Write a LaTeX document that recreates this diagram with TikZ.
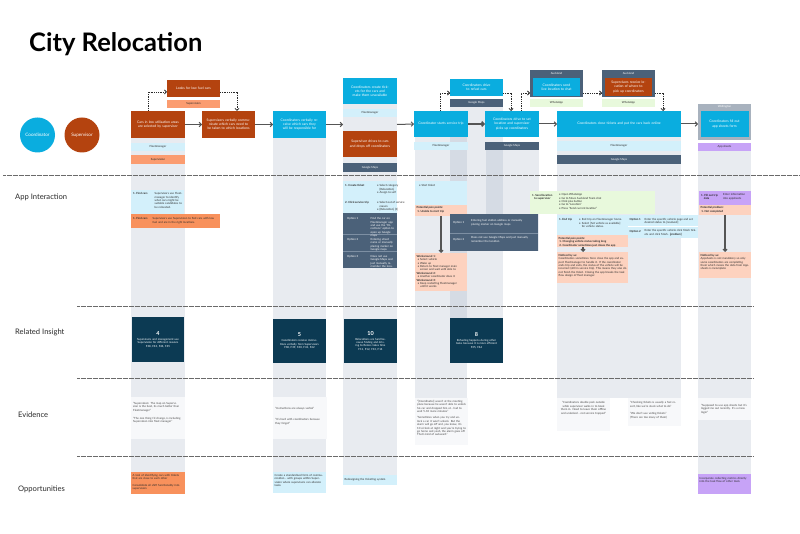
\documentclass[tikz,border=0pt]{standalone}
\usepackage{fontspec}
\setmainfont{Lato}
\usetikzlibrary{arrows.meta}

% palette
\definecolor{cyanc}{HTML}{0AADDF}
\definecolor{brownc}{HTML}{B4430F}
\definecolor{salmonc}{HTML}{FB9C70}
\definecolor{orangec}{HTML}{F8915C}
\definecolor{peachc}{HTML}{FDD2BF}
\definecolor{lblue}{HTML}{D3F0FB}
\definecolor{slatec}{HTML}{4B6179}
\definecolor{optline}{HTML}{7D8FA3}
\definecolor{lgreen}{HTML}{E8F9DC}
\definecolor{purplec}{HTML}{C7A3F7}
\definecolor{bandbase}{HTML}{8C9BB4}
\definecolor{navyc}{HTML}{0C3A53}
\definecolor{framec}{HTML}{A8B2BE}
\definecolor{evc}{HTML}{F7F8FA}
\definecolor{inkc}{HTML}{2A2A2A}
\definecolor{quotec}{HTML}{444444}
\definecolor{linec}{HTML}{6A6A6A}
\definecolor{arrowc}{HTML}{555555}

\newcommand\fsCard{\fontsize{3.4}{4.1}\selectfont}
\newcommand\fsNote{\fontsize{2.8}{3.4}\selectfont}
\newcommand\fsRow{\fontsize{7.6}{9}\selectfont}
\newcommand\fsNum{\fontsize{5.5}{6.5}\selectfont}

\tikzset{
  base/.style={anchor=north west, inner sep=0pt, outer sep=0pt, align=center, font=\fsCard},
  wh/.style 2 args={minimum width=#1pt, minimum height=#2pt},
  tw/.style={text width=#1pt},
  card/.style={base, fill=#1, text=white},
  tag/.style={base, fill=#1, text=inkc, font=\fsNote},
  flow/.style={draw=arrowc, line width=1pt, -{Straight Barb[length=2.2pt,width=4.6pt]}},
  dflow/.style={draw=inkc, line width=0.8pt, dash pattern=on 1pt off 0.8pt, -{Straight Barb[length=2pt,width=4pt]}},
  vflow/.style={draw=arrowc, line width=1.2pt, -{Straight Barb[length=2pt,width=4pt]}},
  sep/.style={draw=linec, line width=0.7pt, dash pattern=on 0.7pt off 0.5pt},
  band/.style={fill=bandbase, fill opacity=0.2},
  txt/.style={anchor=north west, inner sep=0pt, align=left, font=\fsNote, text=inkc},
  wtxt/.style={txt, text=white},
  qtxt/.style={txt, text=quotec},
  insight/.style={base, fill=navyc, text=white, font=\fsNote},
  rowlab/.style={anchor=west, inner sep=0pt, font=\fsRow, text=inkc},
  hdr/.style={anchor=north, inner sep=0pt, font=\fsNote, text=white},
}

\begin{document}
\begin{tikzpicture}[x=1pt,y=-1pt]
\useasboundingbox (0,0) rectangle (800,534);
\fill[white] (0,0) rectangle (800,534);

% ---------- title and legend ----------
\node[anchor=west, inner sep=0pt, font=\fontsize{25.5}{28}\selectfont\bfseries] (title) at (29,44) {City Relocation};
\node[circle, fill=cyanc, minimum size=35pt, inner sep=0pt, text=white, font=\fontsize{4.6}{5}\selectfont] (legC) at (37.5,135) {Coordinator};
\node[circle, fill=brownc, minimum size=35pt, inner sep=0pt, text=white, font=\fontsize{4.6}{5}\selectfont] (legS) at (82,135) {Supervisor};

% ---------- column bands ----------
\fill[band] (131,138) rectangle (185,472);
\fill[band] (273,138) rectangle (326,472);
\fill[band] (343,104) rectangle (397,475);
\fill[band] (415,137) rectangle (467,398);
\fill[band] (450,107) rectangle (503,318);
\fill[band] (486,150) rectangle (539,251);
\fill[band] (557,137) rectangle (681,398);
\fill[band] (698,150) rectangle (751,474);

% ---------- row separators and labels ----------
\draw[sep] (3,175) -- (800,175);
\draw[sep] (77,306) -- (753,306);
\draw[sep] (77,378) -- (753,378);
\draw[sep] (77,456) -- (753,456);
\node[rowlab] (rApp) at (15,197) {App Interaction};
\node[rowlab] (rIns) at (15,332) {Related Insight};
\node[rowlab] (rEv) at (18,415) {Evidence};
\node[rowlab] (rOpp) at (18,489) {Opportunities};

% ---------- journey steps ----------
\node[card=brownc, wh={54}{27}, tw=47] (cA) at (131,111) {Cars in low utilisation areas are selected by supervisor};
\node[card=brownc, wh={53}{17}, tw=47] (cAup) at (167,80) {Looks for low fuel cars};
\node[tag=salmonc, wh={53}{8}] (tAup) at (167,100) {Supervision};
\node[tag=lblue, wh={54}{8}] (tA1) at (131,143) {Fleetmanager};
\node[tag=salmonc, wh={54}{9}] (tA2) at (131,155) {Supervision};

\node[card=brownc, wh={53}{27}, tw=47] (cB) at (202,111) {Supervisors verbally communicate which cars need to be taken to which locations};

\node[card=cyanc, wh={53}{27}, tw=47] (cC) at (273,111) {Coordinators verbally receive which cars they will be responsible for};

\node[card=cyanc, wh={54}{26}, tw=47] (cD1) at (343,78) {Coordinators create tickets for the cars and make them unavailable};
\node[tag=lblue, wh={54}{8}] (tD1) at (343,109) {Fleetmanager};
\node[card=brownc, wh={54}{26}, tw=47] (cD2) at (343,131) {Supervisor drives to cars and drops off coordinators};
\node[tag=slatec, wh={54}{9}, text=white] (tD2) at (343,163) {Google Maps};

\node[card=cyanc, wh={54}{26}, tw=47] (cE) at (414,111) {Coordinator starts service trip};
\node[tag=lblue, wh={54}{8}] (tE) at (414,142) {Fleetmanager};

\node[card=cyanc, wh={53}{17}, tw=47] (cEp) at (450,79) {Coordinators drive to refuel cars};
\node[tag=slatec, wh={53}{8}, text=white] (tEp) at (450,99) {Google Maps};

\node[card=cyanc, wh={54}{26}, tw=47] (cF) at (485,111) {Coordinators drive to set location and supervisor picks up coordinators};
\node[tag=slatec, wh={54}{8}, text=white] (tF) at (485,142) {Google Maps};

\node[base, fill=slatec, wh={53}{27}] (fG) at (530,70) {};
\node[hdr] (hG) at (556.5,71.8) {Auckland};
\node[card=cyanc, wh={47}{18}, tw=44] (cG) at (533,78) {Coordinators send live location to chat};
\node[tag=lgreen, wh={53}{8}] (tG) at (530,99) {WhatsApp};

\node[base, fill=slatec, wh={53}{27}] (fH) at (602,70) {};
\node[hdr] (hH) at (628.5,71.8) {Auckland};
\node[card=brownc, wh={47}{18}, tw=44] (cH) at (605,78) {Supervisors receive location of where to pick up coordinators};
\node[tag=lgreen, wh={53}{8}] (tH) at (602,99) {WhatsApp};

\node[card=cyanc, wh={124}{26}, tw=112] (cI) at (557,111) {Coordinators close tickets and put the cars back online};
\node[tag=lblue, wh={124}{10}] (tI1) at (557,141) {Fleetmanager};
\node[tag=slatec, wh={124}{9}, text=white] (tI2) at (557,155) {Google Maps};

\node[base, fill=framec, wh={53}{36}] (fJ) at (698,104) {};
\node[hdr] (hJ) at (724.5,105.5) {Wellington};
\node[card=cyanc, wh={48}{26}, tw=44] (cJ) at (700.5,111) {Coordinators fill out app sheets form};
\node[tag=purplec, wh={53}{8}] (tJ) at (698,143) {App sheets};

% main flow
\draw[flow] (cA.east) -- (cB.west);
\draw[flow] (cB.east) -- (cC.west);
\draw[flow] (cC.east) -- (cC.east -| cD1.west);
\draw[flow] (cC.east -| cD1.east) -- (cE.west);
\draw[flow, line width=1.6pt] (cE.east) -- (cF.west);
\draw[flow] (cF.east) -- (cI.west);
\draw[flow] (cI.east) -- (cI.east -| fJ.west);

% side branches
\coordinate (kA) at (148,92);
\coordinate (kB) at (237,92);
\coordinate (kE) at (440,93);
\coordinate (kF) at (511,93);
\coordinate (kG) at (521,93);
\coordinate (kI) at (663,93);
\draw[dflow] (kA |- cA.north) -- (kA) -- (kA -| cAup.west);
\draw[dflow] (kB -| cAup.east) -- (kB) -- (kB |- cB.north);
\draw[dflow] (kE |- cE.north) -- (kE) -- (kE -| cEp.west);
\draw[dflow] (kF -| cEp.east) -- (kF) -- (kF |- cF.north);
\draw[dflow] (kG |- cF.north) -- (kG) -- (kG -| fG.west);
\draw[dflow] (kG -| fG.east) -- (kG -| fH.west);
\draw[dflow] (kI -| fH.east) -- (kI) -- (kI |- cI.north);

% ---------- app interaction ----------
% supervisor finding cars
\node[base, fill=lblue, wh={53}{24}] (aA1) at (131,190) {};
\node[txt] (aA1l) at (133,192.5) {\textbf{1. Find cars}};
\node[txt, tw=28] (aA1t) at (154.5,192.5) {Supervisors use Fleetmanager to identify what cars might be suitable candidates to be relocated.};
\node[base, fill=orangec, wh={89}{14}] (aA2) at (131,214) {};
\node[txt] (aA2l) at (133,217.5) {\textbf{1. Find cars}};
\node[txt, tw=64] (aA2t) at (152.5,217.5) {Supervisors use Supervision to find cars with low fuel and are in the right locations.};

% ticket creation and directions
\node[base, fill=lblue, wh={54}{32}] (aD1) at (343,181) {};
\node[txt] (aD1a) at (345,184.5) {\textbf{1. Create ticket}};
\node[txt] (aD1b) at (377,184.5) {• Select category\\\phantom{• }[Relocation]\\• Assign to self};
\node[txt] (aD1c) at (345,201.5) {\textbf{2. Click service trip}};
\node[txt] (aD1d) at (377,201.5) {• Select out of service\\\phantom{• }reason\\• [Relocation] [3]};
\node[base, fill=slatec, wh={54}{55}] (oD) at (343,213) {};
\draw[optline, line width=0.5pt] (343,234) -- (397,234);
\draw[optline, line width=0.5pt] (343,251) -- (397,251);
\node[wtxt] (oD1l) at (347,217.5) {Option 1};
\node[wtxt, tw=25.5] (oD1t) at (370.5,217.5) {Find the car on Fleetmanager app and use the "Directions" option to open up Google maps};
\node[wtxt] (oD2l) at (347,238) {Option 2};
\node[wtxt, tw=25.5] (oD2t) at (370.5,238) {Entering street name or manually placing marker on Google maps};
\node[wtxt] (oD3l) at (347,255) {Option 3};
\node[wtxt, tw=25.5] (oD3t) at (370.5,255) {Does not use Google Maps and just manually remember the location};

% starting the service trip
\node[base, fill=lblue, wh={52}{24}] (aE1) at (415,181) {};
\node[txt] (aE1t) at (419,184.5) {• Start ticket};
\node[base, fill=peachc, wh={52}{11}] (pE) at (415,205) {};
\node[txt] (pEt) at (416.5,206.5) {\textbf{Potential pain points:}\\\textbf{\ 1. Unable to start trip}};
\node[base, fill=peachc, wh={52}{38}] (wE) at (415,253) {};
\node[txt, tw=50] (wEt) at (416.5,255) {\textbf{Workaround 1:}\\\ • Select vehicle\\\ • Wake up\\\ • Return to fleet manager main\\\ \phantom{• }screen and wait until able to\\\textbf{Workaround 2:}\\\ • Another coordinator does it\\\textbf{Workaround 3:}\\\ • Keep restarting Fleetmanager\\\ \phantom{• }until it works};
\draw[vflow] (pE.south) -- (wE.north);

% refuelling directions
\node[base, fill=slatec, wh={88}{37}] (oF) at (450,214) {};
\draw[optline, line width=0.5pt] (450,233) -- (538,233);
\node[wtxt] (oF1l) at (453,221.5) {Option 1};
\node[wtxt, tw=58] (oF1t) at (471,219.5) {Entering fuel station address or manually placing marker on Google maps};
\node[wtxt] (oF2l) at (453,238.5) {Option 2};
\node[wtxt, tw=58] (oF2t) at (471,236.5) {Does not use Google Maps and just manually remember the location};

% sharing location
\node[base, fill=lgreen, wh={125}{23}] (gG) at (530,191) {};
\node[txt] (gGl) at (532,194) {\textbf{1. Send location}\\\textbf{\ \ \ to supervisor}};
\node[txt] (gGt) at (559,193.5) {• Open WhatsApp\\• Go to Mevo Auckland Team chat\\• Click plus button\\• Go to "Location"\\• Press "Send current location"};

% ending the trip
\node[base, fill=lblue, wh={71}{21}] (aI1) at (557,215) {};
\node[txt] (aI1l) at (559,218.5) {\textbf{1. End trip}};
\node[txt, tw=48] (aI1t) at (579,218.5) {• End trip on Fleetmanager home.\\• Select [Set vehicle as available]\\\phantom{• }for vehicle status.};
\node[base, fill=lblue, wh={70}{23}] (oI) at (628,215) {};
\draw[white, line width=0.5pt] (628,226.5) -- (698,226.5);
\node[txt] (oI1l) at (629.5,218.5) {\textbf{Option 1}};
\node[txt, tw=52] (oI1t) at (644.5,218) {Enter the specific vehicle page and set desired status to [resolved]};
\node[txt] (oI2l) at (629.5,230) {\textbf{Option 2}};
\node[txt, tw=52] (oI2t) at (644.5,229.5) {Enter the specific vehicle click finish tickets and click finish. \textbf{[problem]}};
\node[base, fill=peachc, wh={71}{12}] (pI) at (557,235.5) {};
\node[txt] (pIt) at (558.5,237) {\textbf{Potential pain points:}\\\textbf{\ 1. Changing vehicle status taking long}\\\textbf{\ 2. Coordinator sometimes just closes the app}};
\node[base, fill=peachc, wh={71}{31}] (nI) at (557,252) {};
\node[txt, tw=68] (nIt) at (558.5,254) {\textbf{Noticed by us:}\\Coordinators sometimes force close the app and expect Fleetmanager to handle it. If the coordinator ends trip and exits, the status of the vehicle will be incorrect (still in service trip). This means they also do not finish the ticket. Closing the app breaks the task flow design of fleet manager.};
\draw[vflow] ([xshift=-9.5pt]pI.south) -- ([xshift=-9.5pt]nI.north);

% app sheets
\node[base, fill=purplec, wh={52}{14}] (aJ) at (699,191) {};
\node[txt] (aJl) at (701,194) {\textbf{1. Fill out trip}\\\textbf{\ \ \ \ data}};
\node[txt, tw=27] (aJt) at (723,193.5) {Enter information into appsheets};
\node[base, fill=peachc, wh={52}{10}] (pJ) at (699,205) {};
\node[txt] (pJt) at (700.5,206.5) {\textbf{Potential problem:}\\\textbf{\ 1. Not completed}};
\node[base, fill=peachc, wh={52}{26}] (nJ) at (699,252) {};
\node[txt, tw=49] (nJt) at (700.5,254) {\textbf{Noticed by us:}\\Appsheets is not mandatory so only some coordinators are completing them which means the data from Appsheets is incomplete};
\draw[vflow] (pJ.south) -- (nJ.north);

% ---------- related insights ----------
\node[insight, wh={52}{45}, tw=44] (iA) at (132,317) {{\fsNum\bfseries 4}\\[1.5pt]Supervisors and management use Supervision for different reasons\\F38, F43, F44, F45};
\node[insight, wh={53}{44}, tw=46] (iC) at (273,319) {{\fsNum\bfseries 5}\\[1.5pt]Coordinators receive instructions verbally from Supervisors\\F38, F39, F40, F41, F42};
\node[insight, wh={53}{44}, tw=44] (iD) at (344,319) {{\fsNum\bfseries 10}\\[1.5pt]Relocations are hard because finding and driving to Relocs takes time\\F11, F12, F13, F14};
\node[insight, wh={53}{45}, tw=44] (iE) at (450,318) {{\fsNum\bfseries 8}\\[1.5pt]Refueling happens during other tasks because it is more efficient\\F35, F46};

% ---------- evidence ----------
\node[base, fill=evc, wh={54}{42}] (eA) at (131,397) {};
\node[qtxt, tw=48] (eAt) at (133,402) {"Supervision: The map on Supervision is the best, its much better than Fleetmanager"\\[5pt]"The one thing I'd change, is including Supervision into fleet manager"};
\node[base, fill=evc, wh={54}{42}] (eC) at (273,397) {};
\node[qtxt, tw=48] (eCt) at (275,407) {"Instructions are always verbal"\\[8pt]"It's hard with coordinators because they forget"};
\node[base, fill=evc, wh={53}{47}] (eE) at (415,398) {};
\node[qtxt, tw=49] (eEt) at (417,400) {"[Coordinator] wasn't at the meeting place because he wasn't able to unlock his car and dropped him at - had to wait 5-10 more minutes"\\[3pt]"Sometimes when you try and unlock a car it won't unlock. But the alarm will go off and, you know, it's 10 o'clock at night and you're trying to go home and yeah, the alarm goes off. That's kind of awkward."};
\node[base, fill=evc, wh={53}{33}] (eI1) at (557,398) {};
\node[qtxt, tw=49, align=center, anchor=north] (eI1t) at (583.5,401.5) {"Coordinators double park outside while supervisor walks in to book them in. Need to leave them offline and unlocked - not service trapped"};
\node[base, fill=evc, wh={53}{28}] (eI2) at (628,398) {};
\node[qtxt, tw=49] (eI2t) at (630,401.5) {"Checking tickets is usually a fast resort, like we're stuck what to do"\\[4pt]"We don't use voting tickets"\\(There are too many of them)};
\node[base, fill=evc, wh={53}{22}] (eJ) at (698,398) {};
\node[qtxt, tw=47] (eJt) at (701,404) {"Supposed to use app sheets but it's logged me out recently. It's a mess login"};

% ---------- opportunities ----------
\node[base, fill=orangec, wh={54}{22}] (opA) at (131,472) {};
\node[txt, tw=50] (opAt) at (132.5,474) {A tool of identifying cars with tickets that are close to each other\\[3pt]Consolidate all shift functionality into supervision};
\node[base, fill=lblue, wh={53}{21}] (opC) at (273,472) {};
\node[txt, tw=50] (opCt) at (274.5,474) {Create a standardised form of communication - with groups within Supervision where supervisors can allocate tasks};
\node[base, fill=lblue, wh={54}{10}] (opD) at (343,475) {};
\node[txt, tw=50] (opDt) at (344.5,478.5) {Redesigning the ticketing system};
\node[base, fill=purplec, wh={53}{20}] (opJ) at (698,474) {};
\node[txt, tw=50] (opJt) at (699.5,477) {Incorporate collecting metrics directly into the task flow of other tools};

\end{tikzpicture}
\end{document}
